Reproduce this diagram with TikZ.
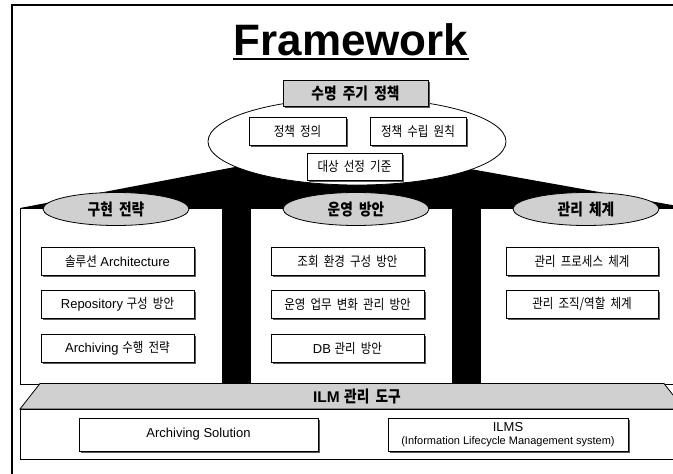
\documentclass[tikz,border=0pt]{standalone}
\usepackage{fontspec}
\setmainfont{Liberation Sans}
\newfontfamily\kr{Noto Sans CJK KR}[FakeStretch=0.85, Scale=1.04, WordSpace=2]
\usetikzlibrary{shadows,shapes.geometric}
\definecolor{lgray}{RGB}{208,208,208}
\newcommand\K[1]{{\kr #1}}
\tikzset{
  x=1pt, y=-1pt,
  shade/.style={drop shadow={shadow xshift=1.6pt, shadow yshift=-1.6pt, fill=black!65, opacity=1}},
  tbox/.style={draw=black, line width=0.8pt, fill=white, inner sep=0pt, shade,
    font=\fontsize{13}{15}\selectfont, align=center},
  colbox/.style={draw=black, line width=0.8pt, fill=white},
  colhead/.style={ellipse, draw=black, line width=0.8pt, fill=lgray, inner sep=0pt,
    minimum width=146pt, minimum height=33pt, font=\fontsize{15.5}{18}\selectfont\bfseries},
}
\begin{document}
\begin{tikzpicture}
\useasboundingbox (0,0) rectangle (673,474);
\clip (0,0) rectangle (673,474);
\fill[white] (0,0) rectangle (673,474);

% black backbone
\fill[black] (20,208) -- (300,154.6) -- (420,160) -- (700,210) -- (700,230) -- (20,230) -- cycle;
\fill[black] (222,208) rectangle (250,384);
\fill[black] (452,208) rectangle (480,384);

% column boxes
\draw[colbox] (20,208) rectangle (222,384);
\draw[colbox] (250,208) rectangle (452,384);
\draw[colbox] (480,208) rectangle (700,384);

% column headers
\node[colhead] (h1) at (116,209) {\K{구현 전략}};
\node[colhead] (h2) at (356,209) {\K{운영 방안}};
\node[colhead] (h3) at (586,209) {\K{관리 체계}};

% big ellipse
\node[ellipse, draw=black, line width=0.8pt, fill=white, minimum width=298pt, minimum height=87pt] (ell) at (357,141.5) {};
\node[draw=black, line width=0.8pt, fill=lgray, shade, inner sep=0pt, minimum width=145pt, minimum height=26pt,
  font=\fontsize{15.5}{18}\selectfont\bfseries] (life) at (355.5,93) {\K{수명 주기 정책}};
\node[tbox, minimum width=97pt, minimum height=28pt] (p1) at (297.5,131) {\K{정책 정의}};
\node[tbox, minimum width=96pt, minimum height=28pt] (p2) at (418,131) {\K{정책 수립 원칙}};
\node[tbox, minimum width=95pt, minimum height=27pt] (p3) at (354.5,166.5) {\K{대상 선정 기준}};

% inner boxes
\tikzset{ib/.style={tbox, minimum width=153pt, minimum height=28pt}}
\node[ib] (a1) at (117.5,261) {\K{솔루션} Architecture};
\node[ib] (a2) at (117.5,304.5) {Repository \K{구성 방안}};
\node[ib] (a3) at (117.5,348) {Archiving \K{수행 전략}};
\node[ib] (b1) at (347.5,261) {\K{조회 환경 구성 방안}};
\node[ib] (b2) at (347.5,304.5) {\K{운영 업무 변화 관리 방안}};
\node[ib] (b3) at (347.5,348) {DB \K{관리 방안}};
\node[ib, minimum width=152pt] (c1) at (582,261) {\K{관리 프로세스 체계}};
\node[ib, minimum width=152pt] (c2) at (582,304.5) {\K{관리 조직/역할 체계}};

% ILM tool
\draw[line width=0.8pt, fill=lgray] (40,383.5) -- (664,383.5) -- (684,409) -- (20,409) -- cycle;
\node[font=\fontsize{15.5}{18}\selectfont\bfseries] (ilm) at (357,396) {ILM \K{관리 도구}};
\draw[colbox] (20,409) rectangle (700,459);
\node[tbox, minimum width=239pt, minimum height=33pt] (s1) at (198.5,434.5) {Archiving Solution};
\node[tbox, minimum width=240pt, minimum height=33pt] (s2) at (508,434.5)
  {ILMS\\[-2pt]{\fontsize{11}{12}\selectfont(Information Lifecycle Management system)}};

% outer frame
\draw[line width=2pt] (12,490) -- (12,5) -- (690,5);

% title
\node[inner sep=0pt, anchor=base, font=\fontsize{44}{48}\selectfont\bfseries] (title) at (351,55) {Framework};
\draw[line width=2.2pt] ([yshift=-4pt]title.base west) -- ([yshift=-4pt]title.base east);
\end{tikzpicture}
\end{document}
